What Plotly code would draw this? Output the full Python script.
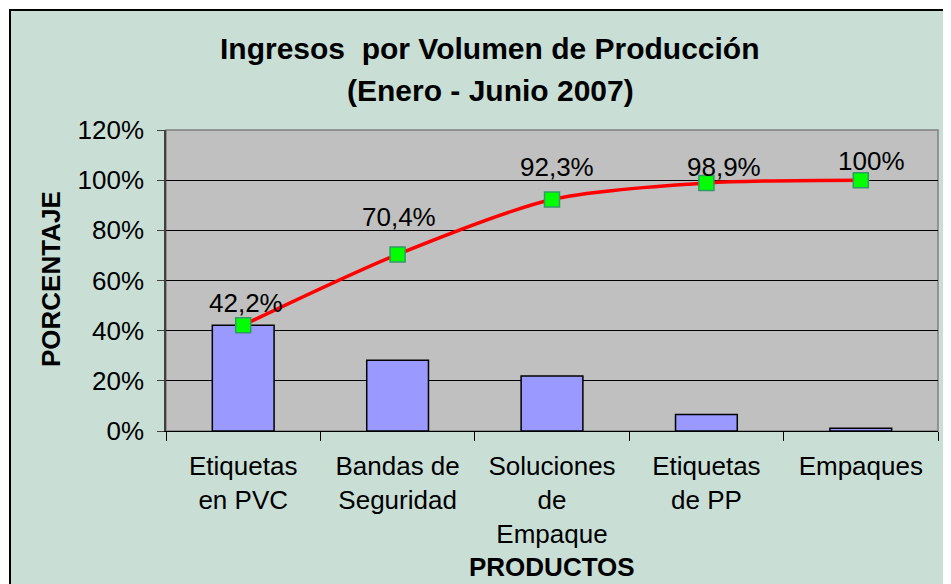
import plotly.graph_objects as go

categories = ["Etiquetas<br>en PVC", "Bandas de<br>Seguridad", "Soluciones<br>de<br>Empaque",
              "Etiquetas<br>de PP", "Empaques"]
share_pct = [42.2, 28.2, 21.9, 6.6, 1.1]
cumulative_pct = [42.2, 70.4, 92.3, 98.9, 100.0]
cum_labels = ["42,2%", "70,4%", "92,3%", "98,9%", "100%"]
y_ticks = [0, 20, 40, 60, 80, 100, 120]
y_tick_labels = ["0%", "20%", "40%", "60%", "80%", "100%", "120%"]

# label offsets (style only)
label_dx = [3, 1, 5, 18, 11]
label_dy = [22, 37, 32, 16, 19]

OFF = 8  # page body margin
W, H = 951 - OFF, 584 - OFF
# plot area in screen pixels: x 166..938, y 130..431
ML, MR, MT, MB = 166 - OFF, 951 - 938, 130 - OFF, 584 - 431
PW, PH = W - ML - MR, H - MT - MB

def px(x):  # screen x -> paper
    return (x - OFF - ML) / PW

def py(y):  # screen y -> paper
    return (H - MB - (y - OFF)) / PH

FONT = "Arial, Liberation Sans, sans-serif"

fig = go.Figure()
fig.add_trace(go.Bar(
    x=categories, y=share_pct, width=0.4,
    marker=dict(color="#9999FF", line=dict(color="black", width=1.5)),
    showlegend=False, hoverinfo="skip"))
fig.add_trace(go.Scatter(
    x=categories, y=cumulative_pct, mode="lines+markers",
    line=dict(color="#FF0000", width=3.5, shape="spline", smoothing=0.8),
    marker=dict(symbol="square", size=15, color="#00FF00",
                line=dict(color="#339966", width=1.5)),
    showlegend=False, hoverinfo="skip"))

annotations = []
for c, v, t, dx, dy in zip(categories, cumulative_pct, cum_labels, label_dx, label_dy):
    annotations.append(dict(x=c, y=v, xref="x", yref="y", text=t, showarrow=False,
                            xshift=dx, yshift=dy,
                            font=dict(family=FONT, size=26, color="black")))

annotations += [
    dict(x=px(490), y=py(49), xref="paper", yref="paper", showarrow=False,
         text="<b>Ingresos  por Volumen de Producción</b>", xanchor="center", yanchor="middle",
         font=dict(family=FONT, size=30, color="black")),
    dict(x=px(490), y=py(90), xref="paper", yref="paper", showarrow=False,
         text="<b>(Enero - Junio 2007)</b>", xanchor="center", yanchor="middle",
         font=dict(family=FONT, size=30, color="black")),
    dict(x=px(51), y=py(279), xref="paper", yref="paper", showarrow=False,
         text="<b>PORCENTAJE</b>", textangle=-90, xanchor="center", yanchor="middle",
         font=dict(family=FONT, size=26, color="black")),
    dict(x=px(552), y=py(567), xref="paper", yref="paper", showarrow=False,
         text="<b>PRODUCTOS</b>", xanchor="center", yanchor="middle",
         font=dict(family=FONT, size=26, color="black")),
]

shapes = [
    # white strips outside the chart border
    dict(type="rect", xref="paper", yref="paper", x0=px(0), x1=px(10), y0=py(600), y1=py(0),
         fillcolor="white", line=dict(width=0), layer="above"),
    dict(type="rect", xref="paper", yref="paper", x0=px(0), x1=px(960), y0=py(10), y1=py(0),
         fillcolor="white", line=dict(width=0), layer="above"),
    # chart border
    dict(type="rect", xref="paper", yref="paper", x0=px(10), x1=px(990), y0=py(620), y1=py(10),
         line=dict(color="black", width=2), layer="above"),
    # plot area border
    dict(type="rect", xref="paper", yref="paper", x0=0, x1=1, y0=0, y1=1,
         line=dict(color="#808080", width=1.5), layer="below"),
]

fig.update_layout(
    width=W, height=H,
    margin=dict(l=ML, r=MR, t=MT, b=MB, autoexpand=False),
    paper_bgcolor="#C9DFD6", plot_bgcolor="#C0C0C0",
    font=dict(family=FONT, size=26, color="black"),
    bargap=0.6,
    annotations=annotations, shapes=shapes,
    xaxis=dict(type="category", tickson="boundaries", ticks="outside", ticklen=9,
               tickcolor="black", tickwidth=1, showline=True, linecolor="black", linewidth=1,
               showgrid=False, tickfont=dict(family=FONT, size=26), automargin=False,
               ticklabelstandoff=12),
    yaxis=dict(range=[0, 120], tickvals=y_ticks, ticktext=y_tick_labels,
               ticks="outside", ticklen=7, tickcolor="#404040", showline=True,
               linecolor="#404040", linewidth=1.5, showgrid=True, gridcolor="black",
               gridwidth=1, zeroline=False, tickfont=dict(family=FONT, size=26),
               ticklabelstandoff=8, automargin=False),
)

fig.write_html("out.html")
